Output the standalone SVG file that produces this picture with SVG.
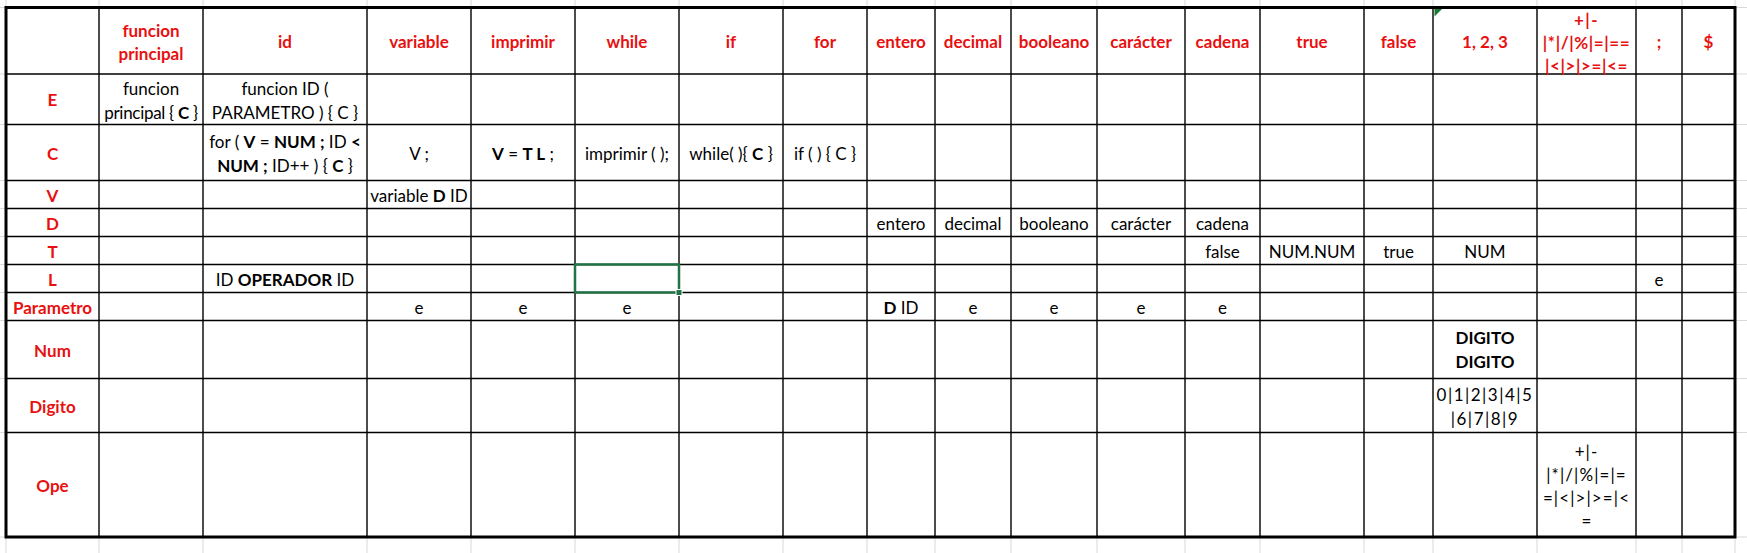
<svg xmlns="http://www.w3.org/2000/svg" width="1747" height="553" viewBox="0 0 1747 553">
<style>
.g{stroke:#d9d9d9;stroke-width:1}
.ln{stroke:#000;stroke-width:1.4}
.bd{fill:none;stroke:#000;stroke-width:3}
text{font-family:Lato,"Open Sans","Liberation Sans",sans-serif;font-size:17px;text-anchor:middle;fill:#000}
.h{fill:#e81010;font-weight:bold}
.b{font-weight:bold}
.p{letter-spacing:1.5px}
.q{letter-spacing:1.1px}
</style>
<rect width="1747" height="553" fill="#fff"/>
<g id="excel-grid">
<path class="g" d="M6 0V553M99 0V553M203 0V553M367 0V553M471 0V553M575 0V553M679 0V553M783 0V553M867 0V553M935 0V553M1011 0V553M1097 0V553M1185 0V553M1260 0V553M1364 0V553M1433 0V553M1537 0V553M1636 0V553M1682 0V553M1735 0V553"/>
<path class="g" d="M0 7.5H1747M0 74H1747M0 124.5H1747M0 180.5H1747M0 208.5H1747M0 236.5H1747M0 264.5H1747M0 292.5H1747M0 320.5H1747M0 378.5H1747M0 432.5H1747M0 537H1747"/>
</g>
<rect x="6" y="7.5" width="1729" height="529.5" fill="#fff"/>
<g id="table-lines">
<path class="ln" d="M99 7.5V537M203 7.5V537M367 7.5V537M471 7.5V537M575 7.5V537M679 7.5V537M783 7.5V537M867 7.5V537M935 7.5V537M1011 7.5V537M1097 7.5V537M1185 7.5V537M1260 7.5V537M1364 7.5V537M1433 7.5V537M1537 7.5V537M1636 7.5V537M1682 7.5V537"/>
<path class="ln" d="M6 74H1735M6 124.5H1735M6 180.5H1735M6 208.5H1735M6 236.5H1735M6 264.5H1735M6 292.5H1735M6 320.5H1735M6 378.5H1735M6 432.5H1735"/>
<rect class="bd" x="6" y="7.5" width="1729" height="529.5"/>
</g>
<g id="selection">
<rect x="575" y="264.5" width="104" height="28" fill="none" stroke="#217346" stroke-width="2.5"/>
<rect x="676" y="289.5" width="6" height="6" fill="#217346" stroke="#fff" stroke-width="1"/>
<polygon points="1434.5,9 1442,9 1434.5,16.5" fill="#1e7a32"/>
</g>
<g id="header">
<text class="h" x="151" y="36.5">funcion</text>
<text class="h" x="151" y="59.5">principal</text>
<text class="h" x="285" y="48">id</text>
<text class="h" x="419" y="48">variable</text>
<text class="h" x="523" y="48">imprimir</text>
<text class="h" x="627" y="48">while</text>
<text class="h" x="731" y="48">if</text>
<text class="h" x="825" y="48">for</text>
<text class="h" x="901" y="48">entero</text>
<text class="h" x="973" y="48">decimal</text>
<text class="h" x="1054" y="48">booleano</text>
<text class="h" x="1141" y="48">carácter</text>
<text class="h" x="1222.5" y="48">cadena</text>
<text class="h" x="1312" y="48">true</text>
<text class="h" x="1398.5" y="48">false</text>
<text class="h" x="1485" y="48">1, 2, 3</text>
<text class="h p" x="1586.5" y="25.8">+|-</text>
<text class="h" x="1586.5" y="49" letter-spacing="0.6">|*|/|%|=|==</text>
<text class="h" x="1586.5" y="71.5" letter-spacing="0.6">|&lt;|&gt;|&gt;=|&lt;=</text>
<text class="h" x="1659" y="48">;</text>
<text class="h" x="1708.5" y="48">$</text>
</g>
<g id="row-labels">
<text class="h" x="52.5" y="106">E</text>
<text class="h" x="52.5" y="159.5">C</text>
<text class="h" x="52.5" y="201.5">V</text>
<text class="h" x="52.5" y="229.5">D</text>
<text class="h" x="52.5" y="257.5">T</text>
<text class="h" x="52.5" y="285.5">L</text>
<text class="h" x="52.5" y="313.5">Parametro</text>
<text class="h" x="52.5" y="356.5">Num</text>
<text class="h" x="52.5" y="412.5">Digito</text>
<text class="h" x="52.5" y="491.5">Ope</text>
</g>
<g id="row-E">
<text x="151" y="95">funcion</text>
<text x="151" y="119" letter-spacing="-0.3">principal { <tspan class="b">C</tspan> }</text>
<text x="285" y="95">funcion ID (</text>
<text x="285" y="119">PARAMETRO ) { C }</text>
</g>
<g id="row-C">
<text x="285" y="147.5">for ( <tspan class="b">V</tspan> = <tspan class="b">NUM ;</tspan> ID <tspan class="b">&lt;</tspan></text>
<text x="285" y="171.5"><tspan class="b">NUM ;</tspan> ID++ ) { <tspan class="b">C</tspan> }</text>
<text x="419" y="160">V ;</text>
<text x="523" y="160"><tspan class="b">V</tspan> = <tspan class="b">T L</tspan> ;</text>
<text x="627" y="160">imprimir ( );</text>
<text x="731" y="160">while( ){ <tspan class="b">C</tspan> }</text>
<text x="825" y="160">if ( ) { C }</text>
</g>
<g id="row-V">
<text x="419" y="201.5">variable <tspan class="b">D</tspan> ID</text>
</g>
<g id="row-D">
<text x="901" y="229.5">entero</text>
<text x="973" y="229.5">decimal</text>
<text x="1054" y="229.5">booleano</text>
<text x="1141" y="229.5">carácter</text>
<text x="1222.5" y="229.5">cadena</text>
</g>
<g id="row-T">
<text x="1222.5" y="257.5">false</text>
<text x="1312" y="257.5">NUM.NUM</text>
<text x="1398.5" y="257.5">true</text>
<text x="1485" y="257.5">NUM</text>
</g>
<g id="row-L">
<text x="285" y="285.5">ID <tspan class="b">OPERADOR</tspan> ID</text>
<text x="1659" y="285.5">e</text>
</g>
<g id="row-Parametro">
<text x="419" y="313.5">e</text>
<text x="523" y="313.5">e</text>
<text x="627" y="313.5">e</text>
<text x="901" y="313.5"><tspan class="b">D</tspan> ID</text>
<text x="973" y="313.5">e</text>
<text x="1054" y="313.5">e</text>
<text x="1141" y="313.5">e</text>
<text x="1222.5" y="313.5">e</text>
</g>
<g id="row-Num">
<text class="b" x="1485" y="344">DIGITO</text>
<text class="b" x="1485" y="367.5">DIGITO</text>
</g>
<g id="row-Digito">
<text class="p" x="1485" y="401">0|1|2|3|4|5</text>
<text class="p" x="1485" y="424.5">|6|7|8|9</text>
</g>
<g id="row-Ope">
<text class="q" x="1586.5" y="457.5">+|-</text>
<text class="q" x="1586.5" y="480.5">|*|/|%|=|=</text>
<text class="q" x="1586.5" y="503.5">=|&lt;|&gt;|&gt;=|&lt;</text>
<text x="1586.5" y="526.5">=</text>
</g>
</svg>
